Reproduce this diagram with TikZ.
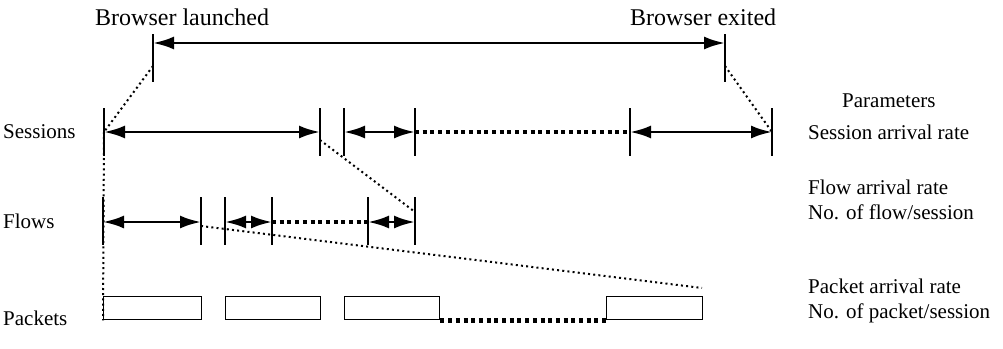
\documentclass[tikz,border=0pt]{standalone}
\usepackage{fontspec}
\setmainfont{Liberation Serif}
\usetikzlibrary{arrows.meta,positioning}

\begin{document}
\begin{tikzpicture}[x=1pt,y=-1pt,
  tick/.style={line width=1.3pt},
  span/.style={{Latex[length=21pt,width=13pt]}-{Latex[length=21pt,width=13pt]},
               line width=2.8pt},
  gap/.style={line width=4.5pt,dash pattern=on 4pt off 3.7pt},
  link/.style={line width=2pt,dash pattern=on 2pt off 3.2pt},
  pkt/.style={draw,line width=1.4pt,minimum height=23pt,inner sep=0pt,
              anchor=north west},
  big/.style={font=\fontsize{24}{26}\selectfont,inner sep=0pt,anchor=base west},
  lbl/.style={font=\fontsize{21}{25}\selectfont,inner sep=0pt,align=left,
              anchor=base west}
]
\useasboundingbox (0,0) rectangle (1003,348);

% browser lifetime
\node[big] (launch) at (95,25) {Browser launched};
\node[big] (exit) at (630,25) {Browser exited};
\coordinate (bl) at (153,43);
\coordinate (be) at (725,43);
\draw[tick] (153,34) -- (153,82);
\draw[tick] (725,34) -- (725,82);
\draw[span] (bl) -- (be);
\coordinate (blo) at (153,66);
\coordinate (beo) at (725,66);

% sessions
\foreach \n/\x in {s0/104,s1/320,s2/344,s3/415,s4/630,s5/772} {
  \coordinate (\n) at (\x,132);
  \draw[tick] (\n) ++(0,-24) -- ++(0,48);
}
\draw[span] (s0) -- (s1);
\draw[span] (s2) -- (s3);
\draw[gap] (s3) -- (s4);
\draw[span] (s4) -- (s5);

% flows
\foreach \n/\x in {f0/103,f1/201,f2/225,f3/272,f4/368,f5/415} {
  \coordinate (\n) at (\x,222);
  \draw[tick] (\n) ++(0,-25) -- ++(0,48);
}
\draw[span] (f0) -- (f1);
\draw[span] (f2) -- (f3);
\draw[gap] (f3) -- (f4);
\draw[span] (f4) -- (f5);

% packets
\node[pkt,minimum width=98pt] (p1) at (103,296) {};
\node[pkt,minimum width=95pt] (p2) at (225,296) {};
\node[pkt,minimum width=95pt] (p3) at (344,296) {};
\node[pkt,minimum width=96pt] (p4) at (606,296) {};
\draw[gap] (p3.south east) -- (p4.south west);

% zoom lines
\coordinate (s1l) at (320,140);
\coordinate (f5u) at (415,212);
\coordinate (f1l) at (201,226);
\coordinate (p4u) at (702,288);
\draw[link] (blo) -- (s0);
\draw[link] (beo) -- (s5);
\draw[link] (s1l) -- (f5u);
\draw[link] (f1l) -- (p4u);
\draw[link] (s0) -- (p1.south west);

% row names
\node[lbl] (sess) at (3,138) {Sessions};
\node[lbl] (flow) at (3,228) {Flows};
\node[lbl] (pack) at (3,325) {Packets};

% parameters
\node[lbl] (param) at (842,107) {Parameters};
\node[lbl] (sessp) at (808,139) {Session arrival rate};
\node[lbl] (flowp) at (808,219) {Flow arrival rate\\No. of flow/session};
\node[lbl] (packp) at (808,318) {Packet arrival rate\\No. of packet/session};
\end{tikzpicture}
\end{document}
